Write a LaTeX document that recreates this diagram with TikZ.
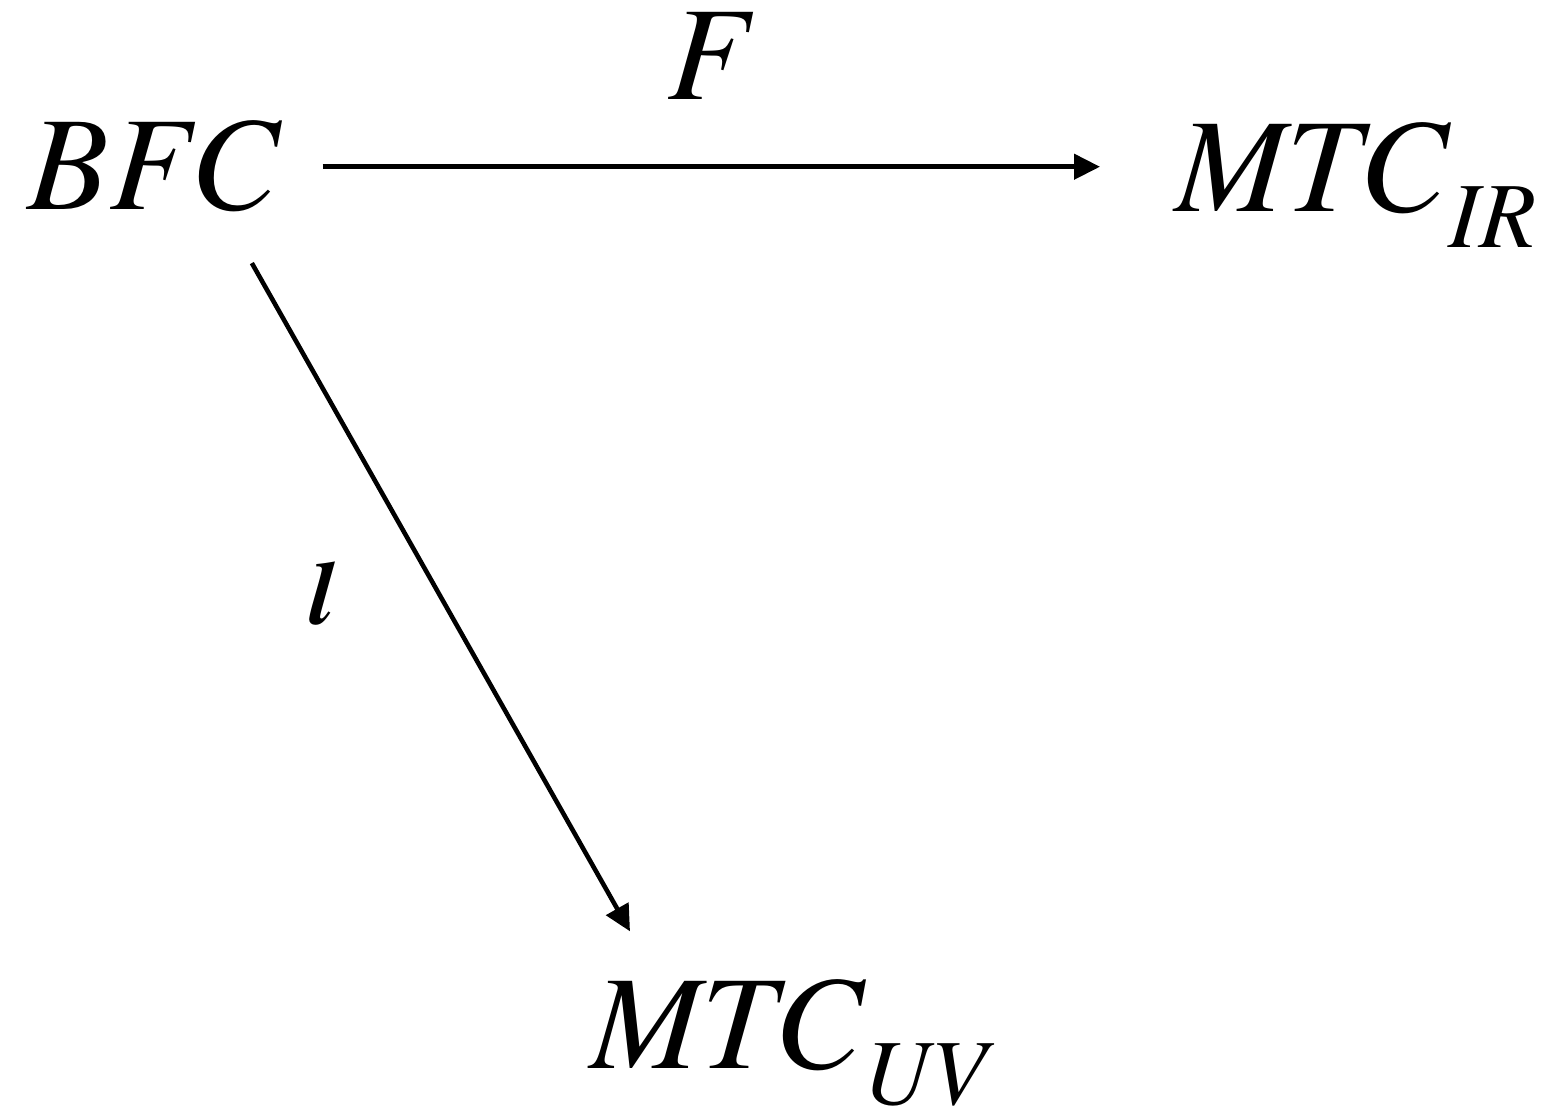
\documentclass[tikz,border=0pt]{standalone}
\usepackage{fontspec}
\setmainfont{texgyretermes}[Extension=.otf, UprightFont=*-regular,
  ItalicFont=*-italic, BoldFont=*-bold, BoldItalicFont=*-bolditalic]
\usetikzlibrary{arrows.meta, positioning}
\newcommand{\lowidx}[1]{\raisebox{-0.36cm}{\fontsize{26.5}{28}\selectfont #1}}

\begin{document}
\begin{tikzpicture}[
                obj/.style={inner sep=0pt, anchor=base west,
                            font=\fontsize{38}{40}\selectfont\itshape},
                lbl/.style={inner sep=0pt, anchor=base west,
                            font=\fontsize{25.5}{27}\selectfont\bfseries\itshape},
                arr/.style={-{Triangle[length=0.26cm, width=0.25cm]}, line width=1.3pt}
            ]
                \useasboundingbox (0,0) rectangle (15.58,-11.09);
                \node[obj] (bfc) at (0.27,-2.10) {BFC};
                \node[obj] (ir) at (11.75,-2.12) {MTC\lowidx{IR}};
                \node[obj] (uv) at (5.90,-10.68) {MTC\lowidx{UV}};
                \node[obj] (f) at (6.67,-1.00) {F};
                \node[lbl] (l) at (3.09,-6.25) {l};

                \draw[arr] ([xshift=0.42cm]bfc.east) -- ([xshift=-0.75cm]bfc.east -| ir.west);
                \draw[arr] ([shift={(0.98,-0.50)}]bfc.south) -- ([shift={(0.40,0.47)}]uv.north west);
            \end{tikzpicture}
\end{document}
